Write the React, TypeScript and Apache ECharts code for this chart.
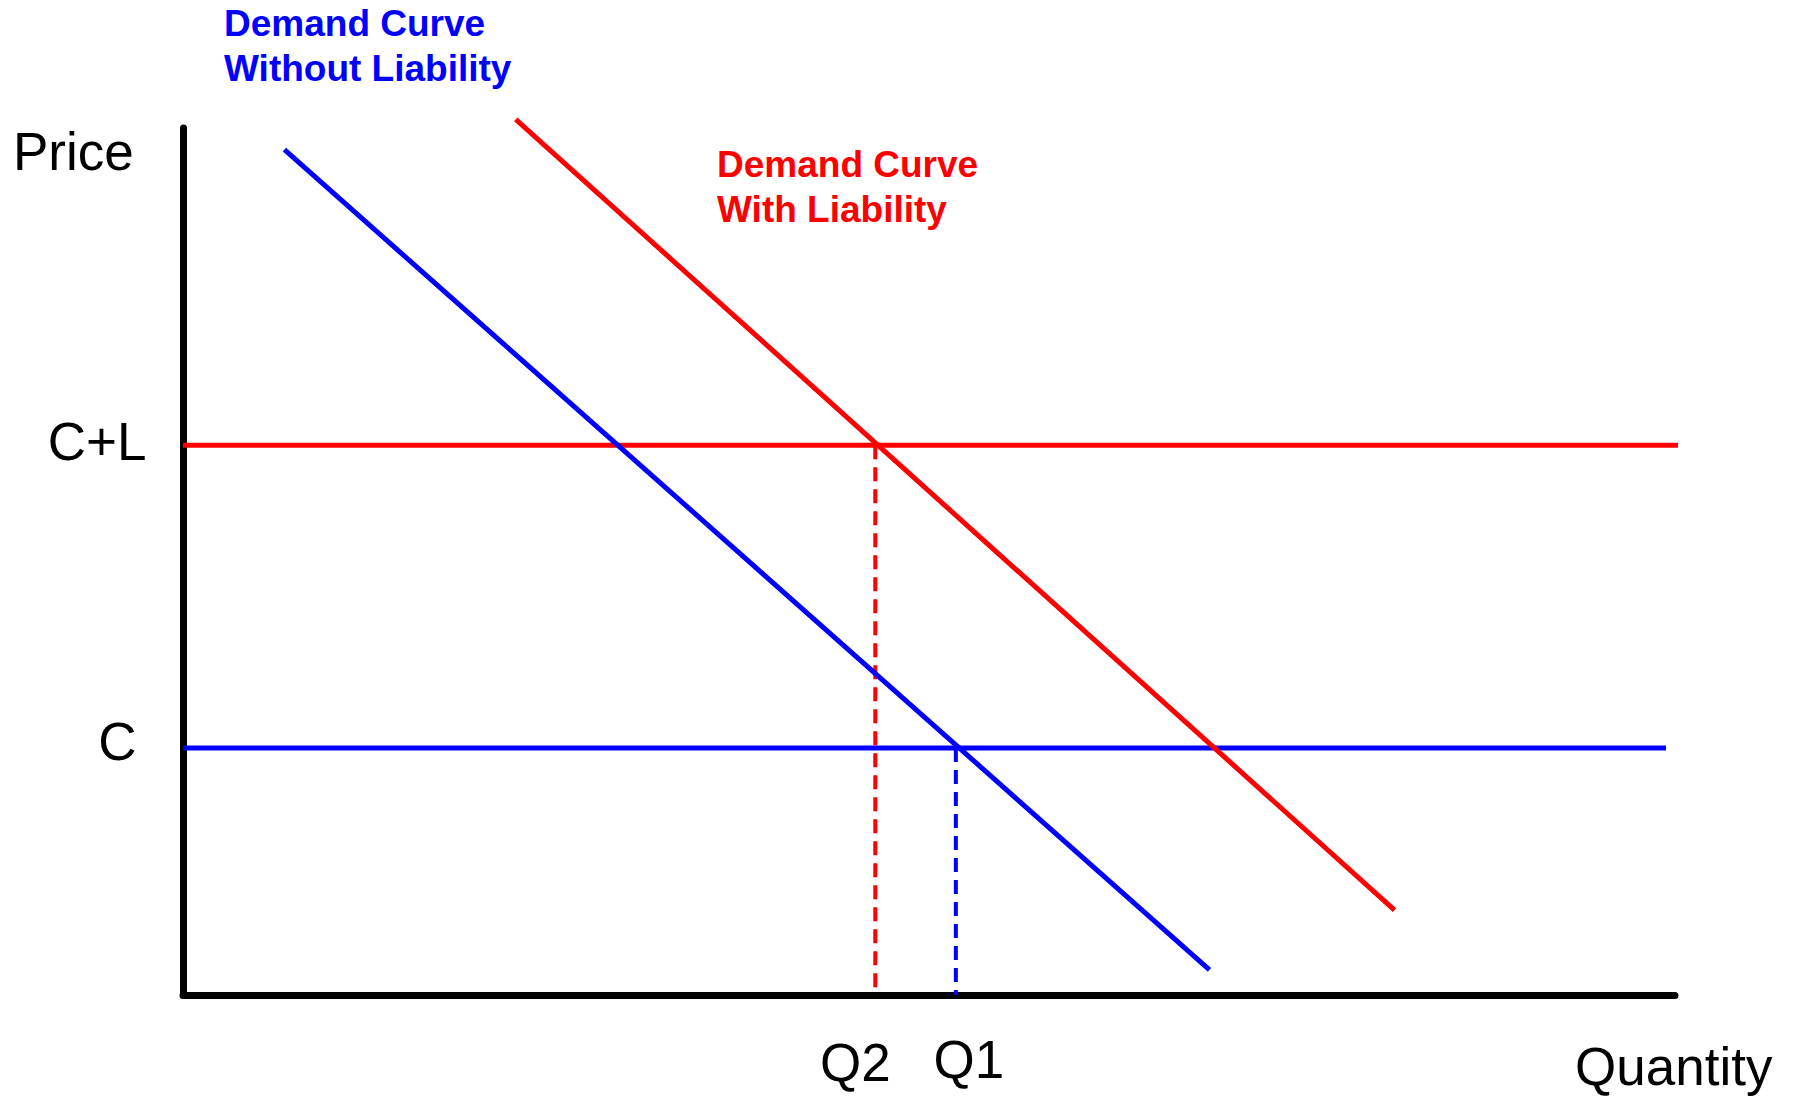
import React, { useEffect, useRef } from "react";
import * as echarts from "echarts";

// ---- data (axis units: 0..100 on both axes) ----
const blueDemand: number[][] = [[6.8, 97.5], [68.8, 2.9]]; // demand without liability
const redDemand: number[][] = [[22.3, 101.0], [81.2, 9.8]]; // demand with liability
const costPlusLiability = 63.4; // "C+L"
const cost = 28.5; // "C"
const clLineEnd = 100.6;
const cLineEnd = 99.4;
const q2 = 46.4;
const q1 = 51.8;
const priceLabels = ["C+L", "C"];
const quantityLabels = ["Q2", "Q1"];

const RED = "#ff0000";
const BLUE = "#0000ff";
const FONT = "Liberation Sans, Arial, sans-serif";

export default function App() {
  const ref = useRef<HTMLDivElement>(null);

  useEffect(() => {
    if (!ref.current) return;
    const chart = echarts.init(ref.current, null, { renderer: "svg" });

    const labelBase = {
      show: true,
      color: "#000000",
      opacity: 1,
      fontSize: 53,
      fontFamily: FONT,
      textBorderWidth: 0,
    };

    const option: any = {
      animation: false,
      backgroundColor: "#ffffff",
      grid: { left: 183, top: 128, width: 1492, height: 867, containLabel: false },
      xAxis: {
        type: "value",
        min: 0,
        max: 100,
        axisLine: { show: true, onZero: false, lineStyle: { color: "#000", width: 7 } },
        axisTick: { show: false },
        axisLabel: { show: false },
        splitLine: { show: false },
      },
      yAxis: {
        type: "value",
        min: 0,
        max: 100,
        axisLine: { show: true, onZero: false, lineStyle: { color: "#000", width: 7 } },
        axisTick: { show: false },
        axisLabel: { show: false },
        splitLine: { show: false },
      },
      series: [
        {
          type: "line",
          name: "C+L",
          data: [[0, costPlusLiability], [clLineEnd, costPlusLiability]],
          showSymbol: false,
          clip: false,
          lineStyle: { color: RED, width: 5 },
          z: 3,
        },
        {
          type: "line",
          name: "C",
          data: [[0, cost], [cLineEnd, cost]],
          showSymbol: false,
          clip: false,
          lineStyle: { color: BLUE, width: 5 },
          z: 3,
        },
        {
          type: "line",
          name: "Q2 drop",
          data: [[q2, costPlusLiability], [q2, 0]],
          showSymbol: false,
          clip: false,
          lineStyle: { color: RED, width: 4, type: [14, 8] },
          z: 2,
        },
        {
          type: "line",
          name: "Q1 drop",
          data: [[q1, cost], [q1, 0]],
          showSymbol: false,
          clip: false,
          lineStyle: { color: BLUE, width: 4, type: [14, 8] },
          z: 2,
        },
        {
          type: "line",
          name: "Demand Without Liability",
          data: blueDemand,
          showSymbol: false,
          clip: false,
          lineStyle: { color: BLUE, width: 5 },
          z: 4,
        },
        {
          type: "line",
          name: "Demand With Liability",
          data: redDemand,
          showSymbol: false,
          clip: false,
          lineStyle: { color: RED, width: 5 },
          z: 4,
        },
        {
          type: "scatter",
          name: "labels",
          symbolSize: 1,
          itemStyle: { color: "rgba(0,0,0,0)" },
          clip: false,
          silent: true,
          z: 5,
          data: [
            {
              value: [0, costPlusLiability],
              label: { ...labelBase, formatter: priceLabels[0], position: "left", distance: 36, offset: [0, -4] },
            },
            {
              value: [0, cost],
              label: { ...labelBase, formatter: priceLabels[1], position: "left", distance: 46, offset: [0, -6] },
            },
            {
              value: [q2, 0],
              label: { ...labelBase, formatter: quantityLabels[0], position: "inside", offset: [-20, 67] },
            },
            {
              value: [q1, 0],
              label: { ...labelBase, formatter: quantityLabels[1], position: "inside", offset: [13, 64] },
            },
          ],
        },
      ],
      graphic: [
        {
          type: "text",
          left: 13,
          top: 152 - 27,
          style: { text: "Price", fill: "#000", font: `53px ${FONT}`, textVerticalAlign: "top" },
        },
        {
          type: "text",
          left: 1575,
          top: 1067 - 27,
          style: { text: "Quantity", fill: "#000", font: `53px ${FONT}`, textVerticalAlign: "top" },
        },
        {
          type: "text",
          left: 224,
          top: 25 - 20,
          style: { text: "Demand Curve", fill: BLUE, font: `bold 37px ${FONT}` },
        },
        {
          type: "text",
          left: 224,
          top: 70 - 20,
          style: { text: "Without Liability", fill: BLUE, font: `bold 37px ${FONT}` },
        },
        {
          type: "text",
          left: 717,
          top: 166 - 20,
          style: { text: "Demand Curve", fill: RED, font: `bold 37px ${FONT}` },
        },
        {
          type: "text",
          left: 717,
          top: 211 - 20,
          style: { text: "With Liability", fill: RED, font: `bold 37px ${FONT}` },
        },
      ],
    };

    chart.setOption(option);
    return () => chart.dispose();
  }, []);

  return (
    <div
      ref={ref}
      style={{ position: "absolute", left: 0, top: 0, width: 1793, height: 1097, background: "#fff" }}
    />
  );
}
